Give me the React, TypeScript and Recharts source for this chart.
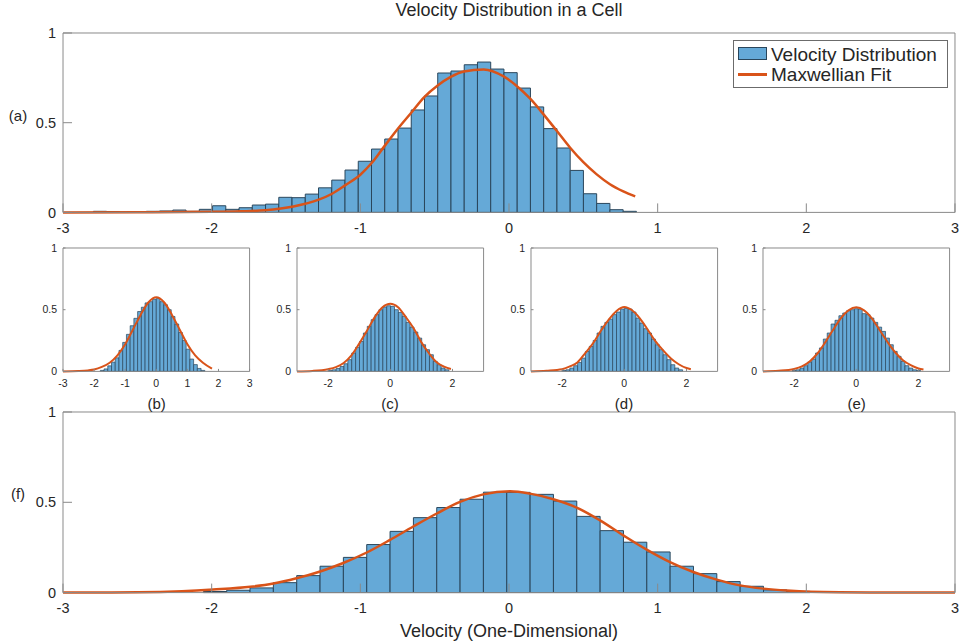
import React from 'react'
import { ComposedChart, Bar, Line, XAxis, YAxis } from 'recharts'

const FONT = '"Liberation Sans", Arial, Helvetica, sans-serif'
const FILL = '#65a9d7'
const EDGE = '#2a465b'
const FIT = '#d95319'
const AXIS = '#8a8a8a'
const TEXT = '#262626'

// ---- histogram bins (first left edge, bin width, heights)
const aStart = -2.796
const aWidth = 0.0891
const aCounts = [
  0.006, 0.005, 0.001, 0.003, 0.006, 0.008, 0.013, 0.006, 0.017, 0.037, 0.017,
  0.026, 0.041, 0.046, 0.084, 0.082, 0.102, 0.137, 0.18, 0.236, 0.285, 0.353,
  0.409, 0.47, 0.571, 0.649, 0.777, 0.788, 0.823, 0.838, 0.799, 0.779, 0.693,
  0.588, 0.467, 0.359, 0.234, 0.104, 0.05, 0.015, 0.006,
]

const bStart = -1.8
const bWidth = 0.12
const bCounts = [
  0.008, 0.02, 0.045, 0.075, 0.11, 0.17, 0.235, 0.3, 0.37, 0.43, 0.485, 0.52,
  0.555, 0.565, 0.585, 0.59, 0.565, 0.54, 0.5, 0.445, 0.384, 0.315, 0.25, 0.18,
  0.1, 0.055, 0.024, 0.008,
]

const cStart = -1.99
const cWidth = 0.125
const cCounts = [
  0.008, 0.013, 0.024, 0.04, 0.062, 0.095, 0.149, 0.195, 0.243, 0.311, 0.365,
  0.419, 0.46, 0.5, 0.522, 0.532, 0.527, 0.5, 0.478, 0.446, 0.397, 0.359, 0.319,
  0.27, 0.216, 0.176, 0.135, 0.081, 0.054, 0.027, 0.013,
]

const dStart = -2.0
const dWidth = 0.125
const dCounts = [
  0.008, 0.013, 0.027, 0.046, 0.073, 0.108, 0.162, 0.203, 0.251, 0.311, 0.365,
  0.397, 0.424, 0.46, 0.481, 0.505, 0.51, 0.505, 0.481, 0.432, 0.392, 0.346,
  0.311, 0.262, 0.216, 0.176, 0.135, 0.095, 0.054, 0.027, 0.013,
]

const eStart = -2.06
const eWidth = 0.125
const eCounts = [
  0.008, 0.013, 0.027, 0.046, 0.076, 0.1, 0.149, 0.19, 0.262, 0.311, 0.384,
  0.414, 0.451, 0.473, 0.492, 0.5, 0.508, 0.505, 0.468, 0.46, 0.432, 0.397,
  0.359, 0.324, 0.27, 0.216, 0.162, 0.122, 0.081, 0.046, 0.027, 0.013, 0.008,
]

const fStart = -2.056
const fWidth = 0.157
const fCounts = [
  0.006, 0.013, 0.026, 0.055, 0.094, 0.146, 0.195, 0.266, 0.339, 0.415, 0.471,
  0.517, 0.556, 0.555, 0.544, 0.507, 0.422, 0.343, 0.279, 0.225, 0.146, 0.105,
  0.061, 0.035, 0.015, 0.007,
]

// ---- Maxwellian fit curves
const aFitX = [-3, -2.5, -2.0, -1.8, -1.64, -1.45, -1.28, -1.19, -1.1, -1.0, -0.924, -0.839, -0.749, -0.659, -0.57, -0.48, -0.392, -0.303, -0.17, -0.036, 0.052, 0.141, 0.231, 0.321, 0.41, 0.5, 0.59, 0.679, 0.769, 0.849]
const aFitY = [0, 0.001, 0.003, 0.006, 0.012, 0.033, 0.071, 0.104, 0.152, 0.21, 0.275, 0.368, 0.465, 0.554, 0.642, 0.707, 0.755, 0.785, 0.797, 0.758, 0.705, 0.635, 0.548, 0.455, 0.362, 0.28, 0.212, 0.157, 0.117, 0.089]

const bFitX = [-3, -2.5, -2.2, -2.0, -1.75, -1.5, -1.25, -1.0, -0.75, -0.5, -0.25, 0, 0.25, 0.5, 0.75, 1.0, 1.25, 1.5, 1.79]
const bFitY = [0, 0.003, 0.008, 0.015, 0.036, 0.07, 0.13, 0.22, 0.34, 0.46, 0.56, 0.6, 0.56, 0.46, 0.34, 0.22, 0.13, 0.07, 0.022]

const cFitX = [-3, -2.5, -2.0, -1.75, -1.5, -1.25, -1.0, -0.75, -0.5, -0.25, 0, 0.25, 0.5, 0.75, 1.0, 1.25, 1.5, 1.75, 1.95]
const cFitY = [0, 0.004, 0.018, 0.035, 0.068, 0.13, 0.225, 0.33, 0.44, 0.52, 0.548, 0.52, 0.44, 0.35, 0.235, 0.145, 0.072, 0.036, 0.019]

const dFitX = [-3, -2.5, -2.0, -1.75, -1.5, -1.25, -1.0, -0.75, -0.5, -0.25, 0, 0.25, 0.5, 0.75, 1.0, 1.25, 1.5, 1.75, 2.0, 2.14]
const dFitY = [0, 0.006, 0.018, 0.04, 0.075, 0.15, 0.23, 0.33, 0.42, 0.49, 0.522, 0.495, 0.43, 0.34, 0.245, 0.17, 0.105, 0.058, 0.027, 0.017]

const eFitX = [-3, -2.5, -2.0, -1.75, -1.5, -1.25, -1.0, -0.75, -0.5, -0.25, 0, 0.25, 0.5, 0.75, 1.0, 1.25, 1.5, 1.75, 2.0, 2.16]
const eFitY = [0, 0.005, 0.02, 0.04, 0.08, 0.145, 0.235, 0.335, 0.43, 0.495, 0.52, 0.495, 0.43, 0.335, 0.24, 0.155, 0.09, 0.05, 0.024, 0.015]

const fFitX = [-3, -2.5, -2.2, -1.99, -1.74, -1.585, -1.43, -1.27, -1.115, -0.957, -0.8, -0.644, -0.486, -0.33, -0.173, 0.007, 0.141, 0.298, 0.455, 0.612, 0.769, 0.926, 1.083, 1.24, 1.397, 1.554, 1.711, 1.868, 2.025, 2.5, 3]
const fFitY = [0, 0.002, 0.008, 0.017, 0.032, 0.05, 0.079, 0.117, 0.164, 0.222, 0.292, 0.366, 0.438, 0.502, 0.544, 0.561, 0.548, 0.517, 0.471, 0.4, 0.317, 0.238, 0.169, 0.114, 0.072, 0.04, 0.022, 0.011, 0.005, 0.001, 0]

const allTicks = [-3, -2, -1, 0, 1, 2, 3]
const evenTicks = [-2, 0, 2]
const yTicks = [0, 0.5, 1]

type Bin = { x: number; h: number }
type Pt = { x: number; y: number }

const toBins = (start: number, width: number, counts: number[]): Bin[] =>
  counts.map((h, i) => ({ x: start + width * (i + 0.5), h }))

const toFit = (xs: number[], ys: number[]): Pt[] => xs.map((x, i) => ({ x, y: ys[i] }))

interface PanelProps {
  left: number
  top: number
  w: number
  h: number
  bins: Bin[]
  binW: number
  fit: Pt[]
  xTicks: number[]
  small?: boolean
}

function Panel({ left, top, w, h, bins, binW, fit, xTicks, small }: PanelProps) {
  const tickLen = small ? 2.5 : 9
  const fontSize = small ? 10.5 : 14.5
  const xGap = small ? 8.5 : 10
  const yGap = small ? 6 : 7
  const yW = small ? 40 : 50
  const xH = small ? 24 : 30
  const pad = 10
  const box = 1 // top / right axes only draw the box and inner ticks
  const barSize = (binW * w) / 6 - 0.01
  const tick = { fill: TEXT, fontSize, fontFamily: FONT }

  return (
    <div style={{ position: 'absolute', left: left - yW, top: top - pad - box }}>
      <ComposedChart
        width={yW + w + box + pad}
        height={pad + box + h + xH}
        data={bins}
        margin={{ top: pad, right: pad, left: 0, bottom: 0 }}
      >
        <XAxis
          xAxisId="bins" dataKey="x" type="number" domain={[-3, 3]}
          ticks={xTicks} interval={0} height={xH} stroke={AXIS}
          tickSize={-tickLen} tickMargin={xGap + tickLen} tick={tick}
        />
        <XAxis
          xAxisId="fit" dataKey="x" type="number" orientation="top" domain={[-3, 3]}
          ticks={xTicks} interval={0} height={box} stroke={AXIS}
          tickSize={-tickLen} tick={false}
        />
        <YAxis
          yAxisId="left" type="number" domain={[0, 1]} ticks={yTicks} interval={0}
          width={yW} stroke={AXIS} tickSize={-tickLen} tickMargin={yGap + tickLen} tick={tick}
        />
        <YAxis
          yAxisId="right" orientation="right" type="number" domain={[0, 1]} ticks={yTicks}
          interval={0} width={box} stroke={AXIS} tickSize={-tickLen} tick={false}
        />
        <Bar
          xAxisId="bins" yAxisId="left" dataKey="h" barSize={barSize}
          fill={FILL} stroke={EDGE} strokeWidth={small ? 0.7 : 1}
          isAnimationActive={false}
        />
        <Line
          xAxisId="fit" yAxisId="right" data={fit} dataKey="y" type="monotone"
          stroke={FIT} strokeWidth={small ? 2 : 2.5} dot={false} activeDot={false}
          isAnimationActive={false}
        />
      </ComposedChart>
    </div>
  )
}

function Label({ x, y, size, children }: { x: number; y: number; size: number; children: React.ReactNode }) {
  return (
    <div
      style={{
        position: 'absolute', left: x, top: y, transform: 'translate(-50%, -50%)',
        fontSize: size, lineHeight: 1, whiteSpace: 'nowrap', color: TEXT,
      }}
    >
      {children}
    </div>
  )
}

export default function App() {
  const smallTop = 248.3
  const smallH = 123.4
  const smallW = 186.6

  return (
    <div
      style={{
        position: 'absolute', left: 0, top: 0, width: 961, height: 644,
        background: '#fff', fontFamily: FONT, overflow: 'hidden',
      }}
    >
      <Panel left={63.3} top={33.3} w={892} h={179.4} bins={toBins(aStart, aWidth, aCounts)} binW={aWidth} fit={toFit(aFitX, aFitY)} xTicks={allTicks} />
      <Panel left={63.3} top={smallTop} w={smallW} h={smallH} bins={toBins(bStart, bWidth, bCounts)} binW={bWidth} fit={toFit(bFitX, bFitY)} xTicks={allTicks} small />
      <Panel left={296.7} top={smallTop} w={smallW} h={smallH} bins={toBins(cStart, cWidth, cCounts)} binW={cWidth} fit={toFit(cFitX, cFitY)} xTicks={evenTicks} small />
      <Panel left={530.7} top={smallTop} w={smallW} h={smallH} bins={toBins(dStart, dWidth, dCounts)} binW={dWidth} fit={toFit(dFitX, dFitY)} xTicks={evenTicks} small />
      <Panel left={763.3} top={smallTop} w={smallW} h={smallH} bins={toBins(eStart, eWidth, eCounts)} binW={eWidth} fit={toFit(eFitX, eFitY)} xTicks={evenTicks} small />
      <Panel left={63.3} top={411.7} w={892} h={180.6} bins={toBins(fStart, fWidth, fCounts)} binW={fWidth} fit={toFit(fFitX, fFitY)} xTicks={allTicks} />

      {/* legend of panel (a) */}
      <div
        style={{
          position: 'absolute', left: 733, top: 40, width: 213, height: 46,
          background: '#fff', border: '1px solid #6b6b6b', color: TEXT, fontSize: 19,
        }}
      >
        <div style={{ position: 'absolute', left: 4, top: 6, width: 29, height: 13, background: FILL, border: `1px solid ${EDGE}`, boxSizing: 'border-box' }} />
        <div style={{ position: 'absolute', left: 37, top: 13, transform: 'translateY(-50%)', lineHeight: 1, whiteSpace: 'nowrap' }}>Velocity Distribution</div>
        <div style={{ position: 'absolute', left: 4, top: 32, width: 29, height: 2.5, background: FIT }} />
        <div style={{ position: 'absolute', left: 37, top: 33, transform: 'translateY(-50%)', lineHeight: 1, whiteSpace: 'nowrap' }}>Maxwellian Fit</div>
      </div>

      <Label x={509} y={10} size={18}>Velocity Distribution in a Cell</Label>
      <Label x={18} y={115} size={15}>(a)</Label>
      <Label x={156.6} y={403} size={15}>(b)</Label>
      <Label x={390} y={403} size={15}>(c)</Label>
      <Label x={624} y={403} size={15}>(d)</Label>
      <Label x={856.6} y={403} size={15}>(e)</Label>
      <Label x={18} y={493} size={15}>(f)</Label>
      <Label x={509} y={631} size={18}>Velocity (One-Dimensional)</Label>
    </div>
  )
}
